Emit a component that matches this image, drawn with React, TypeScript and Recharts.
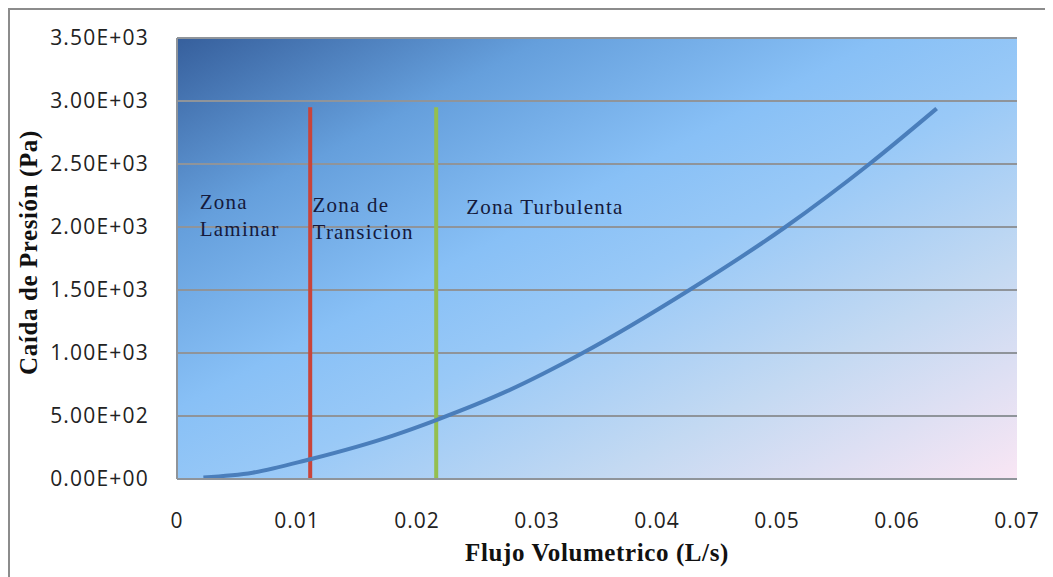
import React from "react";
import {
  LineChart,
  Line,
  XAxis,
  YAxis,
  CartesianGrid,
  ReferenceLine,
  ReferenceDot,
} from "recharts";

// Flow rate (L/s) and pressure drop (Pa) along the pipe test
const flows = [0.0022, 0.0063, 0.0111, 0.018, 0.0216, 0.0275, 0.0338, 0.0427, 0.0507, 0.0577, 0.0633];
const pressures = [12, 50, 157, 345, 468, 697, 1000, 1500, 2000, 2500, 2940];

// Regime boundaries (flow rate) and the height they are drawn to
const laminarLimit = 0.0111;
const turbulentLimit = 0.0216;
const boundaryTop = 2950;

const xTicks = [0, 0.01, 0.02, 0.03, 0.04, 0.05, 0.06, 0.07];
const yTicks = [0, 500, 1000, 1500, 2000, 2500, 3000, 3500];

// Regime annotations anchored at data coordinates (first baseline)
const zoneX = [0.0019, 0.0113, 0.0241];
const zoneY = [2140, 2120, 2100];
const zoneLines = [
  ["Zona", "Laminar"],
  ["Zona de", "Transicion"],
  ["Zona Turbulenta"],
];

const xTitle = "Flujo Volumetrico (L/s)";
const yTitle = "Caída de Presión  (Pa)";

const data = flows.map((q, i) => ({ q, p: pressures[i] }));

const fmtSci = (v: number) => {
  if (v === 0) return "0.00E+00";
  const e = Math.floor(Math.log10(Math.abs(v)));
  const m = v / Math.pow(10, e);
  const sign = e < 0 ? "-" : "+";
  return `${m.toFixed(2)}E${sign}${String(Math.abs(e)).padStart(2, "0")}`;
};

const fmtX = (v: number) => (v === 0 ? "0" : String(Number(v.toFixed(2))));

const serif = "'Liberation Serif', 'Times New Roman', serif";
const sans = "'Open Sans', 'Noto Sans', sans-serif";

const ZoneLabel = (lines: string[]) => (props: any) => {
  const { viewBox } = props;
  const x = viewBox.x;
  const y = viewBox.y;
  return (
    <text
      x={x}
      y={y}
      fill="#151a3c"
      fontFamily={serif}
      fontSize={21}
      letterSpacing={1.2}
    >
      {lines.map((t, i) => (
        <tspan key={i} x={x} dy={i === 0 ? 0 : 27}>
          {t}
        </tspan>
      ))}
    </text>
  );
};

const XTitle = (props: any) => {
  const { viewBox } = props;
  return (
    <text
      x={viewBox.x + viewBox.width / 2}
      y={viewBox.y + 82}
      textAnchor="middle"
      fill="#111"
      fontFamily={serif}
      fontWeight="bold"
      fontSize={25}
      letterSpacing={0.6}
    >
      {xTitle}
    </text>
  );
};

const YTitle = (props: any) => {
  const { viewBox } = props;
  const cx = 27;
  const cy = viewBox.y + viewBox.height / 2 - 6;
  return (
    <text
      x={cx}
      y={cy}
      transform={`rotate(-90 ${cx} ${cy})`}
      textAnchor="middle"
      fill="#111"
      fontFamily={serif}
      fontWeight="bold"
      fontSize={25}
      letterSpacing={0.6}
    >
      {yTitle}
    </text>
  );
};

export default function App() {
  return (
    <div
      style={{
        width: 1045,
        height: 569,
        borderLeft: "2px solid #8c8c8c",
        borderTop: "2px solid #8c8c8c",
        boxSizing: "border-box",
        background: "#ffffff",
      }}
    >
      <LineChart
        width={1043}
        height={567}
        data={data}
        margin={{ top: 28, right: 36, bottom: 0, left: 0 }}
      >
        <defs>
          <linearGradient id="plotBg" x1="0" y1="0" x2="1" y2="1">
            <stop offset="0" stopColor="#365f9c" />
            <stop offset="0.22" stopColor="#659fdc" />
            <stop offset="0.42" stopColor="#88c0f6" />
            <stop offset="0.55" stopColor="#99c9f7" />
            <stop offset="0.75" stopColor="#c3d9f2" />
            <stop offset="1" stopColor="#f9e6f4" />
          </linearGradient>
        </defs>
        <CartesianGrid
          vertical={false}
          stroke="#8f949a"
          strokeWidth={2}
          fill="url(#plotBg)"
          fillOpacity={1}
        />
        <XAxis
          type="number"
          dataKey="q"
          domain={[0, 0.07]}
          ticks={xTicks}
          tickFormatter={fmtX}
          tickLine={false}
          axisLine={{ stroke: "#8f949a", strokeWidth: 2 }}
          tick={{ fill: "#222", fontSize: 21, fontFamily: sans, letterSpacing: 1 }}
          tickMargin={28}
          height={98}
          label={<XTitle />}
        />
        <YAxis
          type="number"
          domain={[0, 3500]}
          ticks={yTicks}
          tickFormatter={fmtSci}
          tickLine={false}
          axisLine={{ stroke: "#8f949a", strokeWidth: 2 }}
          tick={{ fill: "#222", fontSize: 21, fontFamily: sans, letterSpacing: 1.2 }}
          tickMargin={22}
          width={167}
          label={<YTitle />}
        />
        <ReferenceLine
          segment={[
            { x: laminarLimit, y: 0 },
            { x: laminarLimit, y: boundaryTop },
          ]}
          stroke="#c9443a"
          strokeWidth={4}
        />
        <ReferenceLine
          segment={[
            { x: turbulentLimit, y: 0 },
            { x: turbulentLimit, y: boundaryTop },
          ]}
          stroke="#94bf4f"
          strokeWidth={4}
        />
        {zoneLines.map((lines, i) => (
          <ReferenceDot
            key={i}
            x={zoneX[i]}
            y={zoneY[i]}
            r={0}
            fill="none"
            stroke="none"
            label={ZoneLabel(lines)}
          />
        ))}
        <Line
          type="monotone"
          dataKey="p"
          stroke="#4a7ebb"
          strokeWidth={4}
          dot={false}
          isAnimationActive={false}
        />
      </LineChart>
    </div>
  );
}
